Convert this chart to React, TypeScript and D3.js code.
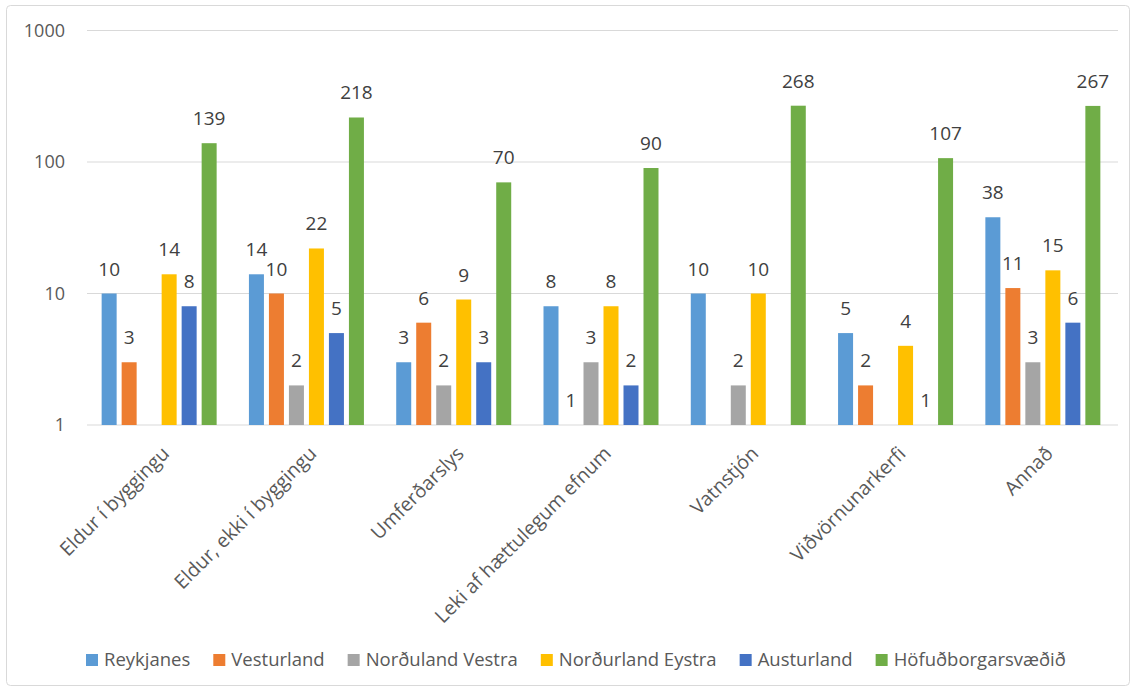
import React, { useEffect, useRef } from "react";
import * as d3 from "d3";

const categories = [
  "Eldur í byggingu",
  "Eldur, ekki í byggingu",
  "Umferðarslys",
  "Leki af hættulegum efnum",
  "Vatnstjón",
  "Viðvörnunarkerfi",
  "Annað",
];

const regions = [
  "Reykjanes",
  "Vesturland",
  "Norðuland Vestra",
  "Norðurland Eystra",
  "Austurland",
  "Höfuðborgarsvæðið",
];

const colors = ["#5B9BD5", "#ED7D31", "#A5A5A5", "#FFC000", "#4472C4", "#70AD47"];

// one array per region, null = no value
const reykjanes = [10, 14, 3, 8, 10, 5, 38];
const vesturland = [3, 10, 6, 1, null, 2, 11];
const nordulandVestra = [null, 2, 2, 3, 2, null, 3];
const nordurlandEystra = [14, 22, 9, 8, 10, 4, 15];
const austurland = [8, 5, 3, 2, null, 1, 6];
const hofudborg = [139, 218, 70, 90, 268, 107, 267];

const series = [reykjanes, vesturland, nordulandVestra, nordurlandEystra, austurland, hofudborg];

const yTicks = [1, 10, 100, 1000];

const W = 1135;
const H = 691;

export default function App() {
  const svgRef = useRef<SVGSVGElement>(null);

  useEffect(() => {
    const svg = d3.select(svgRef.current);
    svg.selectAll("*").remove();

    const font = "'Open Sans', 'Liberation Sans', sans-serif";
    const left = 87, right = 1118, top = 30.5, bottom = 425;

    svg.append("rect")
      .attr("x", 6.5).attr("y", 5.5)
      .attr("width", W - 12).attr("height", H - 11)
      .attr("rx", 4)
      .attr("fill", "#fff")
      .attr("stroke", "#d9d9d9");

    const x = d3.scaleBand<string>().domain(categories).range([left, right]);
    const c = x.bandwidth() / 2 - 1.5;
    const xInner = d3.scaleBand<number>()
      .domain(d3.range(regions.length))
      .range([c - 57.5, c + 57.5])
      .paddingInner(0.25);
    const y = d3.scaleLog().domain([1, 1000]).range([bottom, top]);

    // grid
    svg.append("g").selectAll("line")
      .data(yTicks)
      .join("line")
      .attr("x1", left).attr("x2", right)
      .attr("y1", d => y(d)).attr("y2", d => y(d))
      .attr("stroke", "#d9d9d9").attr("stroke-width", 1.2);

    svg.append("g").selectAll("text")
      .data(yTicks)
      .join("text")
      .attr("x", 65).attr("y", d => y(d))
      .attr("dy", "0.35em")
      .attr("text-anchor", "end")
      .attr("fill", "#595959")
      .style("font", `18px ${font}`)
      .text(d => String(d));

    // bars
    const groups = svg.append("g").selectAll("g")
      .data(categories)
      .join("g")
      .attr("transform", d => `translate(${x(d)},0)`);

    series.forEach((vals, si) => {
      groups.each(function (cat, ci) {
        const v = vals[ci];
        if (v == null) return;
        const g = d3.select(this);
        g.append("rect")
          .attr("x", xInner(si)!)
          .attr("y", y(v))
          .attr("width", xInner.bandwidth())
          .attr("height", bottom - y(v))
          .attr("fill", colors[si]);
        g.append("text")
          .attr("x", xInner(si)! + xInner.bandwidth() / 2)
          .attr("y", y(v) - 18)
          .attr("text-anchor", "middle")
          .attr("fill", "#404040")
          .style("font", `19px ${font}`)
          .text(String(v));
      });
    });

    // x labels
    svg.append("g").selectAll("text")
      .data(categories)
      .join("text")
      .attr("transform", d => `translate(${x(d)! + x.bandwidth() / 2 + 5},${bottom + 25}) rotate(-45)`)
      .attr("text-anchor", "end")
      .attr("dy", "0.35em")
      .attr("fill", "#595959")
      .style("font", `19.5px ${font}`)
      .text(d => d);

    // legend
    const legend = svg.append("g").attr("transform", `translate(86,660)`);
    let cx = 0;
    regions.forEach((r, i) => {
      const item = legend.append("g").attr("transform", `translate(${cx},0)`);
      item.append("rect")
        .attr("x", 0).attr("y", -6)
        .attr("width", 12).attr("height", 12)
        .attr("fill", colors[i]);
      const t = item.append("text")
        .attr("x", 18).attr("dy", "0.35em")
        .attr("fill", "#595959")
        .style("font", `18.5px ${font}`)
        .text(r);
      const w = (t.node() as SVGTextElement).getComputedTextLength();
      cx += 18 + w + 23;
    });
  }, []);

  return (
    <svg
      ref={svgRef}
      width={W}
      height={H}
      style={{ position: "absolute", left: 0, top: 0, background: "#fff" }}
    />
  );
}
